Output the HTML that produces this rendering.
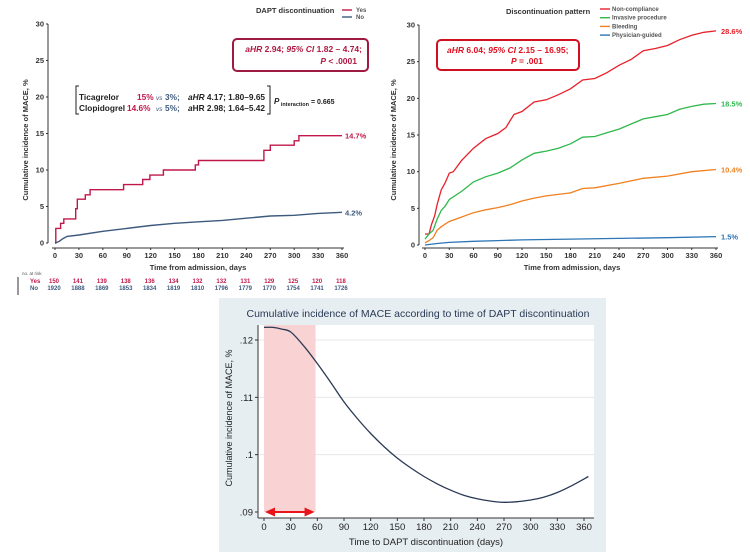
<!DOCTYPE html>
<html><head><meta charset="utf-8">
<style>
body{margin:0;background:#fff;}
svg{display:block;font-family:"Liberation Sans",Arial,sans-serif;}
.t{font-size:7.5px;fill:#333;font-weight:bold;}
.s{font-size:6px;font-weight:bold;}
</style></head>
<body>
<svg id="fig" width="750" height="557" viewBox="0 0 750 557">
<g id="pa"></g>
<g id="pb"></g>
<g id="pc"></g>
</svg>
<script>
// ---- Panel A data
const aDays=[0,1,6,7,10,11,25,26,28,37,38,43,44,85,86,109,110,118,119,135,136,175,176,179,180,260,262,268,270,298,300,305,306,360];
const aYes=[0,2,2,2.7,2.7,3.3,3.3,4.7,6,6,6.6,6.6,7.3,7.3,8,8,8.7,8.7,9.3,9.3,10,10,10.7,10.7,11.3,11.3,12.7,12.7,13.4,13.4,14,14,14.7,14.7];
const aNoDays=[0,5,10,15,30,60,90,120,150,180,210,240,270,300,330,360];
const aNo=[0,0.2,0.6,0.9,1.1,1.6,2,2.4,2.7,2.9,3.1,3.4,3.7,3.8,4.05,4.2];
const riskYes=[150,141,139,138,136,134,132,132,131,129,125,120,118];
const riskNo=[1920,1888,1869,1853,1834,1819,1810,1796,1779,1770,1754,1741,1726];
const xTicks=[0,30,60,90,120,150,180,210,240,270,300,330,360];
const yTicksAB=[0,5,10,15,20,25,30];
// ---- Panel B data
const bDays=[0,5,8,12,15,20,25,30,35,45,60,75,90,100,110,120,135,150,165,180,195,210,225,240,255,270,285,300,315,330,345,360];
const bNonComp=[1.5,1.5,2.8,4,5.5,7.5,8.5,9.8,10,11.5,13.2,14.5,15.2,16,17.8,18.2,19.5,19.8,20.5,21.3,22.5,22.7,23.5,24.5,25.3,26.5,26.8,27.2,28,28.6,29,29.2];
const bDays2=[0,5,10,15,20,25,30,45,60,75,90,105,120,135,150,165,180,195,210,225,240,255,270,285,300,315,330,345,360];
const bInvasive=[0.8,1.5,2,3.5,4.7,5.3,6.2,7.3,8.6,9.3,9.8,10.5,11.6,12.5,12.8,13.2,13.8,14.7,14.8,15.3,15.8,16.5,17.2,17.5,17.8,18.5,18.9,19.2,19.3];
const bDays3=[0,5,10,15,20,30,45,60,75,90,105,120,135,150,180,195,210,240,270,300,330,360];
const bBleeding=[0.3,0.6,1,2,2.5,3.2,3.8,4.4,4.8,5.1,5.5,6,6.4,6.7,7.1,7.7,7.8,8.4,9.1,9.4,10,10.3];
const bDays4=[0,15,30,60,90,120,180,240,300,360];
const bPhysician=[0,0.2,0.35,0.5,0.6,0.7,0.8,0.9,1.0,1.15];
// ---- Panel C data
const cDays=[0,10,20,30,44,60,75,90,105,120,135,150,165,180,195,210,225,240,255,270,285,300,315,330,345,365];
const cInc=[0.1222,0.1222,0.1219,0.1214,0.1191,0.1159,0.1126,0.1092,0.1063,0.1037,0.1014,0.0994,0.0977,0.0962,0.0949,0.0938,0.0929,0.0923,0.0919,0.0917,0.0918,0.0921,0.0926,0.0934,0.0945,0.0962];
const cYTicks=[0.09,0.1,0.11,0.12];
const cYLabels=[".09",".1",".11",".12"];
const cXTicks=[0,30,60,90,120,150,180,210,240,270,300,330,360];
const cShadeEnd=58;

const NS="http://www.w3.org/2000/svg";
function mk(parent,tag,attrs,text){const e=document.createElementNS(NS,tag);for(const k in attrs)e.setAttribute(k,attrs[k]);if(text!==undefined)e.textContent=text;parent.appendChild(e);return e;}
function linePath(xs,ys,fx,fy){return xs.map((d,i)=>(i?'L':'M')+fx(d).toFixed(1)+','+fy(ys[i]).toFixed(1)).join('');}
function smoothPath(xs,ys,fx,fy){
 const P=xs.map((d,i)=>[fx(d),fy(ys[i])]);let s='M'+P[0][0].toFixed(1)+','+P[0][1].toFixed(1);
 for(let i=0;i<P.length-1;i++){const p0=P[Math.max(0,i-1)],p1=P[i],p2=P[i+1],p3=P[Math.min(P.length-1,i+2)];
  const c1=[p1[0]+(p2[0]-p0[0])/6,p1[1]+(p2[1]-p0[1])/6],c2=[p2[0]-(p3[0]-p1[0])/6,p2[1]-(p3[1]-p1[1])/6];
  s+='C'+c1.map(v=>v.toFixed(1)).join(',')+' '+c2.map(v=>v.toFixed(1)).join(',')+' '+p2.map(v=>v.toFixed(1)).join(',');}
 return s;}

// ===== Panel A
(function(){
const g=document.getElementById('pa');
const fx=d=>55+d*287/360, fy=v=>243-v*219/30;
let e=mk(g,'line',{x1:48,y1:fy(30),x2:48,y2:243,stroke:'#333','stroke-width':1});

e=mk(g,'line',{x1:52,y1:248,x2:fx(360)+2,y2:248,stroke:'#333','stroke-width':1});

yTicksAB.forEach(v=>{mk(g,'line',{x1:46,y1:fy(v),x2:48,y2:fy(v),stroke:'#333'});
 const t=mk(g,'text',{x:44,y:fy(v)+2.5,'text-anchor':'end',class:'t'},v);
 });
xTicks.forEach(d=>{mk(g,'line',{x1:fx(d),y1:248,x2:fx(d),y2:250,stroke:'#333'});
 const t=mk(g,'text',{x:fx(d),y:258,'text-anchor':'middle',class:'t'},d);
 });
e=mk(g,'text',{x:198,y:270,'text-anchor':'middle',class:'t','font-size':'7.5'},'Time from admission, days');

e=mk(g,'text',{transform:'translate(28,140) rotate(-90)','text-anchor':'middle',class:'t','font-size':'6.5'},'Cumulative incidence of MACE, %');

let d='M'+fx(aDays[0])+','+fy(aYes[0]);
for(let i=1;i<aDays.length;i++){d+='L'+fx(aDays[i]).toFixed(1)+','+fy(aYes[i-1]).toFixed(1)+'L'+fx(aDays[i]).toFixed(1)+','+fy(aYes[i]).toFixed(1);}
e=mk(g,'path',{d:d,fill:'none',stroke:'#c0184a','stroke-width':1.4});

e=mk(g,'path',{d:linePath(aNoDays,aNo,fx,fy),fill:'none',stroke:'#3d5a7e','stroke-width':1.4});

e=mk(g,'text',{x:345,y:fy(aYes[aYes.length-1])+3,class:'t',style:'fill:#c0184a'},'14.7%');

e=mk(g,'text',{x:345,y:fy(aNo[aNo.length-1])+3,class:'t',style:'fill:#3d5a7e'},'4.2%');

e=mk(g,'text',{x:256,y:13,class:'t'},'DAPT discontinuation');

mk(g,'line',{x1:342,y1:10,x2:352,y2:10,stroke:'#c0184a','stroke-width':1.4});
e=mk(g,'text',{x:356,y:12,class:'s',fill:'#555'},'Yes');
mk(g,'line',{x1:342,y1:17,x2:352,y2:17,stroke:'#3d5a7e','stroke-width':1.4});
e=mk(g,'text',{x:356,y:19,class:'s',fill:'#555'},'No');
e=mk(g,'rect',{x:233,y:39,width:135,height:32,rx:4,fill:'#fff',stroke:'#9e1a40','stroke-width':2});

e=mk(g,'text',{x:362,y:52,'text-anchor':'end','font-size':'8.5','font-weight':'bold',fill:'#b01842'});
e.innerHTML='<tspan font-style="italic">aHR</tspan> 2.94; <tspan font-style="italic">95% CI</tspan> 1.82 – 4.74;';

mk(g,'text',{x:357,y:64,'text-anchor':'end','font-size':'8.5','font-weight':'bold',fill:'#b01842'}).innerHTML='<tspan font-style="italic">P</tspan> &lt; .0001';
mk(g,'path',{d:'M79,86 L76,86 L76,114 L79,114',fill:'none',stroke:'#222','stroke-width':1});
mk(g,'path',{d:'M267,86 L270,86 L270,114 L267,114',fill:'none',stroke:'#222','stroke-width':1});
e=mk(g,'text',{x:79,y:100,'font-size':'8.3','font-weight':'bold',fill:'#222'});
e.innerHTML='Ticagrelor<tspan x="137" fill="#c0184a">15%</tspan><tspan x="156" font-weight="normal" font-style="italic" font-size="6.5" fill="#3d5a7e">vs</tspan><tspan x="165" fill="#3d5a7e">3%;</tspan><tspan x="188" font-style="italic">aHR</tspan> 4.17; 1.80–9.65';

e=mk(g,'text',{x:79,y:111,'font-size':'8.3','font-weight':'bold',fill:'#222'});
e.innerHTML='Clopidogrel<tspan x="127" fill="#c0184a">14.6%</tspan><tspan x="156" font-weight="normal" font-style="italic" font-size="6.5" fill="#3d5a7e">vs</tspan><tspan x="165" fill="#3d5a7e">5%;</tspan><tspan x="188" font-style="italic">a</tspan>HR 2.98; 1.64–5.42';

e=mk(g,'text',{x:274,y:104,'font-size':'7','font-weight':'bold',fill:'#222'});
e.innerHTML='<tspan font-style="italic" font-size="8">P</tspan><tspan font-size="5.5" dy="2"> interaction</tspan><tspan dy="-2"> = 0.665</tspan>';

mk(g,'text',{x:22,y:275,'font-size':'4.5',fill:'#555'},'no. at risk');
mk(g,'line',{x1:18,y1:277,x2:18,y2:295,stroke:'#333'});
mk(g,'text',{x:30,y:283,class:'s',style:'fill:#c0184a'},'Yes');
mk(g,'text',{x:30,y:290,class:'s',style:'fill:#3d5a7e'},'No');
xTicks.forEach((d,i)=>{
 let t=mk(g,'text',{x:fx(d)-1,y:283,'text-anchor':'middle',class:'s',style:'fill:#c0184a'},riskYes[i]);
 
 t=mk(g,'text',{x:fx(d)-1,y:290,'text-anchor':'middle',class:'s',style:'fill:#3d5a7e'},riskNo[i]);
 });
})();

// ===== Panel B
(function(){
const g=document.getElementById('pb');
const fx=d=>425+d*291/360, fy=v=>245-v*220/30;
let e=mk(g,'line',{x1:419,y1:fy(30),x2:419,y2:245,stroke:'#333'});

e=mk(g,'line',{x1:422,y1:248,x2:fx(360)+2,y2:248,stroke:'#333'});

yTicksAB.forEach(v=>{mk(g,'line',{x1:417,y1:fy(v),x2:419,y2:fy(v),stroke:'#333'});
 const t=mk(g,'text',{x:415,y:fy(v)+2.5,'text-anchor':'end',class:'t'},v);
 });
xTicks.forEach(d=>{mk(g,'line',{x1:fx(d),y1:248,x2:fx(d),y2:250,stroke:'#333'});
 const t=mk(g,'text',{x:fx(d),y:258,'text-anchor':'middle',class:'t'},d);
 });
e=mk(g,'text',{x:572,y:270,'text-anchor':'middle',class:'t','font-size':'7.5'},'Time from admission, days');

e=mk(g,'text',{transform:'translate(396,140) rotate(-90)','text-anchor':'middle',class:'t','font-size':'6.5'},'Cumulative incidence of MACE, %');

const series=[[bDays,bNonComp,'#e8202a','series-non-compliance','28.6%','Non-compliance'],
 [bDays2,bInvasive,'#2fb84e','series-invasive-procedure','18.5%','Invasive procedure'],
 [bDays3,bBleeding,'#f08020','series-bleeding','10.4%','Bleeding'],
 [bDays4,bPhysician,'#2e75b6','series-physician-guided','1.5%','Physician-guided']];
series.forEach((s,i)=>{
 let p=mk(g,'path',{d:linePath(s[0],s[1],fx,fy),fill:'none',stroke:s[2],'stroke-width':1.3});
 
 let t=mk(g,'text',{x:721,y:fy(s[1][s[1].length-1])+3,class:'t',style:'fill:'+s[2]},s[4]);
 
 mk(g,'line',{x1:600,y1:9+i*8.7,x2:610,y2:9+i*8.7,stroke:s[2],'stroke-width':1.4});
 t=mk(g,'text',{x:612,y:11+i*8.7,class:'s',fill:'#555'},s[5]);
 
});
e=mk(g,'text',{x:506,y:14,class:'t'},'Discontinuation pattern');

e=mk(g,'rect',{x:437,y:40,width:142,height:30,rx:4,fill:'#fff',stroke:'#d01020','stroke-width':2});

e=mk(g,'text',{x:447,y:53,'font-size':'8.5','font-weight':'bold',fill:'#e01020'});
e.innerHTML='<tspan font-style="italic">aHR</tspan> 6.04; <tspan font-style="italic">95% CI</tspan> 2.15 – 16.95;';

mk(g,'text',{x:511,y:64,'font-size':'8.5','font-weight':'bold',fill:'#e01020'}).innerHTML='<tspan font-style="italic">P</tspan> = .001';
})();

// ===== Panel C
(function(){
const g=document.getElementById('pc');
const fx=d=>264+d*320/360, fy=v=>512-(v-0.09)*172/0.03;
let e=mk(g,'rect',{x:219,y:298,width:387,height:254,fill:'#e7eef2'});

e=mk(g,'rect',{x:258,y:325,width:336,height:193,fill:'#fff'});

e=mk(g,'text',{x:418,y:317,'text-anchor':'middle','font-size':'10.5',fill:'#2a3a55'},'Cumulative incidence of MACE according to time of DAPT discontinuation');

cYTicks.forEach((v,i)=>{
 if(i>0) mk(g,'line',{x1:258,y1:fy(v),x2:594,y2:fy(v),stroke:'#e4e8ea','stroke-width':1});
 mk(g,'line',{x1:255,y1:fy(v),x2:258,y2:fy(v),stroke:'#333'});
 const t=mk(g,'text',{x:253,y:fy(v)+3.5,'text-anchor':'end','font-size':'9.5',fill:'#222'},cYLabels[i]);
 });
e=mk(g,'rect',{x:fx(0),y:325,width:fx(cShadeEnd)-fx(0),height:fy(0.09)-325,fill:'#f9d3d3'});

e=mk(g,'line',{x1:258,y1:325,x2:258,y2:518,stroke:'#333'});

e=mk(g,'line',{x1:258,y1:518,x2:594,y2:518,stroke:'#333'});

cXTicks.forEach(d=>{mk(g,'line',{x1:fx(d),y1:518,x2:fx(d),y2:521,stroke:'#333'});
 const t=mk(g,'text',{x:fx(d),y:530,'text-anchor':'middle','font-size':'9.5',fill:'#222'},d);
 });
e=mk(g,'text',{x:426,y:545,'text-anchor':'middle','font-size':'9.5',fill:'#222'},'Time to DAPT discontinuation (days)');

e=mk(g,'text',{transform:'translate(232,418) rotate(-90)','text-anchor':'middle','font-size':'9',fill:'#222'},'Cumulative incidence of MACE, %');

e=mk(g,'path',{d:smoothPath(cDays,cInc,fx,fy),fill:'none',stroke:'#2a3a55','stroke-width':1.3,'stroke-linejoin':'round'});

const ay=fy(0.09), x0=fx(0)+1, x1=fx(cShadeEnd)-1;
e=mk(g,'path',{d:`M${x0+8},${ay}L${x1-8},${ay}`,stroke:'#e8141a','stroke-width':2});

mk(g,'path',{d:`M${x0},${ay}L${x0+10},${ay-4.5}L${x0+10},${ay+4.5}Z`,fill:'#e8141a'});
mk(g,'path',{d:`M${x1},${ay}L${x1-10},${ay-4.5}L${x1-10},${ay+4.5}Z`,fill:'#e8141a'});
})();
</script>
</body></html>
